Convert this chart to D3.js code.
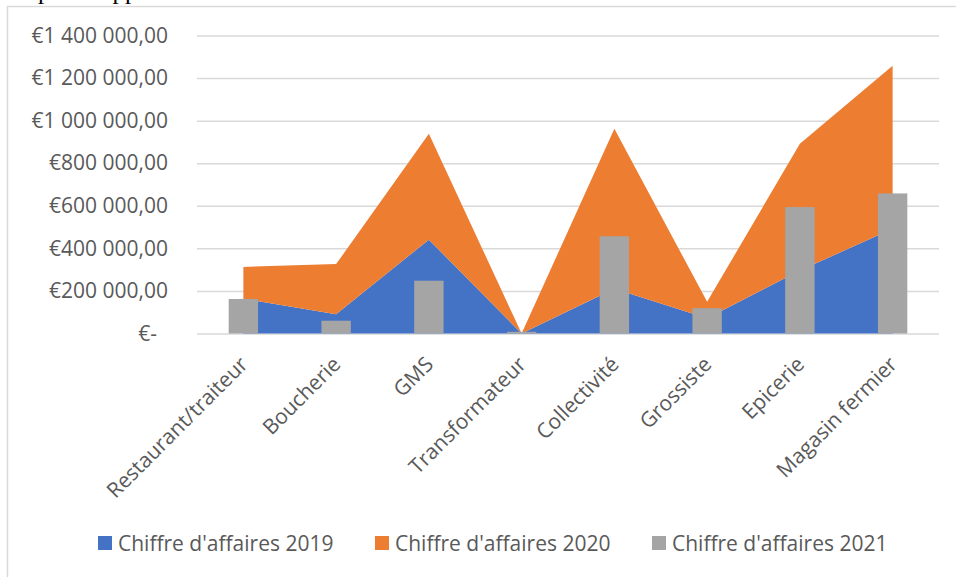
<!DOCTYPE html>
<html>
<head>
<meta charset="utf-8">
<script src="https://cdn.jsdelivr.net/npm/d3@7"></script>
<style>
  body { margin: 0; background: #fff; }
  svg { display: block; }
  text { font-family: "Open Sans", sans-serif; fill: #595959; }
</style>
</head>
<body>
<svg id="svg"></svg>
<script>
// données
const categories = ["Restaurant/traiteur", "Boucherie", "GMS", "Transformateur", "Collectivité", "Grossiste", "Epicerie", "Magasin fermier"];
const ca2019 = [163000, 91000, 441000, 0, 210000, 72000, 296000, 492000];
const ca2020 = [150000, 235000, 497000, 0, 752000, 77000, 595000, 766000];
const ca2021 = [162000, 60000, 248000, 8000, 457000, 119000, 594000, 658000];
const yTicks = [0, 200000, 400000, 600000, 800000, 1000000, 1200000, 1400000];
const seriesNames = ["Chiffre d'affaires 2019", "Chiffre d'affaires 2020", "Chiffre d'affaires 2021"];
const colors = ["#4472C4", "#ED7D31", "#A5A5A5"];

const width = 956, height = 577;
const svg = d3.select('#svg').attr('width', width).attr('height', height);

// texte coupé en haut de la page
svg.append('text')
  .attr('x', 38).attr('y', -1)
  .style('font-family', '"Liberation Serif", serif')
  .style('font-size', '25px')
  .style('fill', '#000')
  .text("pour l'approvisionnement");

// cadre du graphique
svg.append('rect')
  .attr('x', 7.5).attr('y', 6.5)
  .attr('width', 960).attr('height', 600)
  .attr('fill', 'none')
  .attr('stroke', '#D9D9D9')
  .attr('stroke-width', 1.5);

const plot = {left: 197, right: 939, top: 35.5, bottom: 333.5};

const xScale = d3.scaleBand()
  .domain(categories)
  .range([plot.left, plot.right]);

const yScale = d3.scaleLinear()
  .domain([0, 1400000])
  .range([plot.bottom, plot.top]);

const fmt = v => {
  if (v === 0) return '€-';
  const s = d3.format(',.2f')(v).replace(/,/g, ' ').replace('.', ',');
  return '€' + s;
};

// axe y + quadrillage
const yAxis = d3.axisLeft(yScale)
  .tickValues(yTicks)
  .tickSize(-(plot.right - plot.left))
  .tickPadding(29)
  .tickFormat(fmt);

const gy = svg.append('g')
  .attr('transform', `translate(${plot.left},0)`)
  .call(yAxis);
gy.select('.domain').remove();
gy.selectAll('.tick line').attr('stroke', '#D9D9D9').attr('stroke-width', 1.5);
gy.selectAll('.tick text')
  .style('font-size', '21px')
  .attr('fill', '#595959')
  .attr('dx', d => d === 0 ? -11 : 0);

// aires empilées 2019 + 2020
const rows = categories.map((c, i) => ({cat: c, a: ca2019[i], b: ca2020[i]}));
const stack = d3.stack().keys(['a', 'b'])(rows);
const cx = c => xScale(c) + xScale.bandwidth() / 2;
const area = d3.area()
  .x(d => cx(d.data.cat))
  .y0(d => yScale(d[0]))
  .y1(d => yScale(d[1]));

svg.append('g').selectAll('path')
  .data(stack)
  .enter()
  .append('path')
  .attr('d', area)
  .attr('fill', (d, i) => colors[i]);

// colonnes 2021
const barW = xScale.bandwidth() * 0.317;
svg.append('g').selectAll('rect')
  .data(ca2021)
  .enter()
  .append('rect')
  .attr('x', (d, i) => cx(categories[i]) - barW / 2)
  .attr('y', d => yScale(d))
  .attr('width', barW)
  .attr('height', d => yScale(0) - yScale(d))
  .attr('fill', colors[2]);

// étiquettes de catégories
svg.append('g').selectAll('text')
  .data(categories)
  .enter()
  .append('text')
  .attr('transform', d => `translate(${cx(d) - 5},355) rotate(-45)`)
  .attr('text-anchor', 'end')
  .attr('dy', '0.72em')
  .style('font-size', '21px')
  .text(d => d);

// légende
const legendX = [98, 375, 652];
const lg = svg.append('g').selectAll('g')
  .data(seriesNames)
  .enter()
  .append('g')
  .attr('transform', (d, i) => `translate(${legendX[i]},536)`);
lg.append('rect')
  .attr('width', 14).attr('height', 14)
  .attr('fill', (d, i) => colors[i]);
lg.append('text')
  .attr('x', 20).attr('y', 15)
  .style('font-size', '21px')
  .text(d => d);
</script>
</body>
</html>
